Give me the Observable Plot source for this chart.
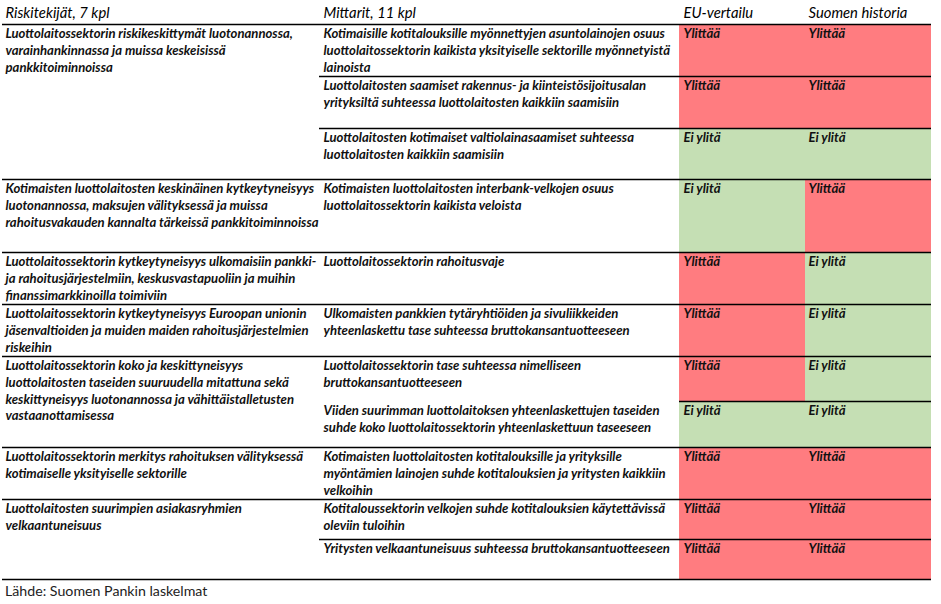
<!DOCTYPE html>
<html><head><meta charset="utf-8">
<script src="https://cdn.jsdelivr.net/npm/d3@7"></script>
<script src="https://cdn.jsdelivr.net/npm/@observablehq/plot@0.6"></script>
<style>
body{margin:0;background:#fff;}
#source{font-family:Lato,sans-serif;font-size:14.2px;line-height:16px;color:#222;margin:1px 0 0 5px;}
</style></head><body>
<div id="chart"></div>
<div id="source"></div>
<script>
// ---- data ----
const headers = ["Riskitekijät, 7 kpl", "Mittarit, 11 kpl", "EU-vertailu", "Suomen historia"];
const riskFactors = [
  "Luottolaitossektorin riskikeskittymät luotonannossa,\nvarainhankinnassa ja muissa keskeisissä\npankkitoiminnoissa",
  "Kotimaisten luottolaitosten keskinäinen kytkeytyneisyys\nluotonannossa, maksujen välityksessä ja muissa\nrahoitusvakauden kannalta tärkeissä pankkitoiminnoissa",
  "Luottolaitossektorin kytkeytyneisyys ulkomaisiin pankki-\nja rahoitusjärjestelmiin, keskusvastapuoliin ja muihin\nfinanssimarkkinoilla toimiviin",
  "Luottolaitossektorin kytkeytyneisyys Euroopan unionin\njäsenvaltioiden ja muiden maiden rahoitusjärjestelmien\nriskeihin",
  "Luottolaitossektorin koko ja keskittyneisyys\nluottolaitosten taseiden suuruudella mitattuna sekä\nkeskittyneisyys luotonannossa ja vähittäistalletusten\nvastaanottamisessa",
  "Luottolaitossektorin merkitys rahoituksen välityksessä\nkotimaiselle yksityiselle sektorille",
  "Luottolaitosten suurimpien asiakasryhmien\nvelkaantuneisuus"
];
const metrics = [
  "Kotimaisille kotitalouksille myönnettyjen asuntolainojen osuus\nluottolaitossektorin kaikista yksityiselle sektorille myönnetyistä\nlainoista",
  "Luottolaitosten saamiset rakennus- ja kiinteistösijoitusalan\nyrityksiltä suhteessa luottolaitosten kaikkiin saamisiin",
  "Luottolaitosten kotimaiset valtiolainasaamiset suhteessa\nluottolaitosten kaikkiin saamisiin",
  "Kotimaisten luottolaitosten interbank-velkojen osuus\nluottolaitossektorin kaikista veloista",
  "Luottolaitossektorin rahoitusvaje",
  "Ulkomaisten pankkien tytäryhtiöiden ja sivuliikkeiden\nyhteenlaskettu tase suhteessa bruttokansantuotteeseen",
  "Luottolaitossektorin tase suhteessa nimelliseen\nbruttokansantuotteeseen",
  "Viiden suurimman luottolaitoksen yhteenlaskettujen taseiden\nsuhde koko luottolaitossektorin yhteenlaskettuun taseeseen",
  "Kotimaisten luottolaitosten kotitalouksille ja yrityksille\nmyöntämien lainojen suhde kotitalouksien ja yritysten kaikkiin\nvelkoihin",
  "Kotitaloussektorin velkojen suhde kotitalouksien käytettävissä\noleviin tuloihin",
  "Yritysten velkaantuneisuus suhteessa bruttokansantuotteeseen"
];
const metricRiskFactor = [0, 0, 0, 1, 2, 3, 4, 4, 5, 6, 6];
const euComparison = ["Ylittää", "Ylittää", "Ei ylitä", "Ei ylitä", "Ylittää", "Ylittää", "Ylittää", "Ei ylitä", "Ylittää", "Ylittää", "Ylittää"];
const finnishHistory = ["Ylittää", "Ylittää", "Ei ylitä", "Ylittää", "Ei ylitä", "Ei ylitä", "Ei ylitä", "Ei ylitä", "Ylittää", "Ylittää", "Ylittää"];
const statusLevels = ["Ylittää", "Ei ylitä"];
const source = "Lähde: Suomen Pankin laskelmat";

// ---- layout (not data) ----
const W = 941, H = 582;
const COL_EDGES = [2, 319, 679, 805, 931];
const TEXT_PAD = [3, 4, 4, 3];
const HEADER_BOTTOM = 24;
const HEADER_BASELINE = 17;
const ROW_HEIGHTS = [52, 52, 51, 73, 52, 52, 45, 46, 52, 40, 40];
const MIDDLE_MERGED = new Set([7]); // no rule in the metric column above this row
const FIRST_BASELINE = 13.8, LINE_STEP = 16.7;
const CELL_FS = 13.1, HEAD_FS = 14.8;
const FONT = "Lato, 'Open Sans', sans-serif";
const RED = "#FF7C80", GREEN = "#C5DFB4";

const rowTop = [], rowBottom = [];
let acc = HEADER_BOTTOM;
ROW_HEIGHTS.forEach((h, i) => { rowTop[i] = acc; acc += h; rowBottom[i] = acc; });

const groupTop = riskFactors.map((_, g) => rowTop[metricRiskFactor.indexOf(g)]);

// rules
const rules = [{y: HEADER_BOTTOM, x1: COL_EDGES[0], x2: COL_EDGES[4]}];
for (let i = 1; i < metrics.length; i++) {
  let x1;
  if (metricRiskFactor[i] !== metricRiskFactor[i - 1]) x1 = COL_EDGES[0];
  else if (MIDDLE_MERGED.has(i)) x1 = COL_EDGES[2];
  else x1 = COL_EDGES[1];
  rules.push({y: rowTop[i], x1, x2: COL_EDGES[4]});
}
rules.push({y: rowBottom[metrics.length - 1], x1: COL_EDGES[0], x2: COL_EDGES[4]});

// status cells
const cells = [];
metrics.forEach((m, i) => {
  cells.push({x1: COL_EDGES[2], x2: COL_EDGES[3], y1: rowTop[i], y2: rowBottom[i], status: euComparison[i]});
  cells.push({x1: COL_EDGES[3], x2: COL_EDGES[4], y1: rowTop[i], y2: rowBottom[i], status: finnishHistory[i]});
});

// text lines
const midShift = 0.32;
function linesOf(text, col, top) {
  return text.split("\n").map((t, k) => ({
    text: t,
    x: COL_EDGES[col] + TEXT_PAD[col],
    y: top + FIRST_BASELINE + k * LINE_STEP - midShift * CELL_FS
  }));
}
const cellLines = [];
riskFactors.forEach((t, g) => cellLines.push(...linesOf(t, 0, groupTop[g])));
metrics.forEach((t, i) => cellLines.push(...linesOf(t, 1, rowTop[i])));
metrics.forEach((t, i) => {
  cellLines.push(...linesOf(euComparison[i], 2, rowTop[i]));
  cellLines.push(...linesOf(finnishHistory[i], 3, rowTop[i]));
});
const headerLines = headers.map((t, c) => ({text: t, x: COL_EDGES[c] + TEXT_PAD[c], y: HEADER_BASELINE - midShift * HEAD_FS}));

const chart = Plot.plot({
  width: W, height: H,
  margin: 0,
  x: {type: "linear", domain: [0, W], range: [0, W], axis: null},
  y: {type: "linear", domain: [0, H], range: [0, H], axis: null},
  color: {type: "ordinal", domain: statusLevels, range: [RED, GREEN]},
  style: {background: "#fff"},
  marks: [
    Plot.rect(cells, {x1: "x1", x2: "x2", y1: "y1", y2: "y2", fill: "status"}),
    Plot.ruleY(rules, {y: "y", x1: "x1", x2: "x2", stroke: "#000", strokeWidth: 1.3}),
    Plot.text(headerLines, {x: "x", y: "y", text: "text", textAnchor: "start", lineAnchor: "middle",
      fontFamily: FONT, fontSize: HEAD_FS, fontStyle: "italic", fill: "#000"}),
    Plot.text(cellLines, {x: "x", y: "y", text: "text", textAnchor: "start", lineAnchor: "middle",
      fontFamily: FONT, fontSize: CELL_FS, fontStyle: "italic", fontWeight: "bold", fill: "#111"})
  ]
});
document.getElementById("chart").appendChild(chart);
document.getElementById("source").textContent = source;
</script>
</body></html>
